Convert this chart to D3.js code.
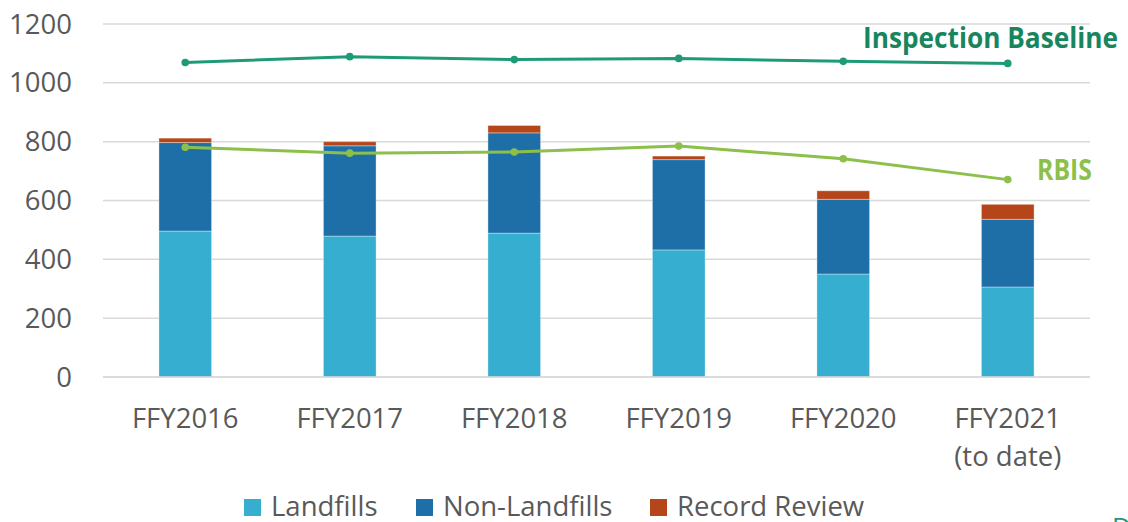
<!DOCTYPE html>
<html>
<head>
<meta charset="utf-8">
<script src="https://cdn.jsdelivr.net/npm/d3@7"></script>
<style>
  body { margin: 0; background: #fff; }
  svg { display: block; font-family: "Open Sans", sans-serif; }
</style>
</head>
<body>
<svg id="chart" width="1128" height="522"></svg>
<script>
// chart values
const years = ["FFY2016", "FFY2017", "FFY2018", "FFY2019", "FFY2020", "FFY2021"];
const yearSub = ["", "", "", "", "", "(to date)"];
const landfills = [496, 479, 489, 432, 350, 306];
const nonLandfills = [301, 307, 341, 307, 254, 230];
const recordReview = [15, 14, 25, 12, 29, 51];
const baseline = [1069, 1089, 1079, 1083, 1073, 1066];
const rbis = [781, 761, 765, 785, 742, 671];
const yTicks = [0, 200, 400, 600, 800, 1000, 1200];

const seriesNames = ["Landfills", "Non-Landfills", "Record Review"];
const seriesColors = ["#36aecf", "#1e6fa8", "#b5461a"];

const svg = d3.select("#chart");
const fontSize = 27.5;

// plot area
const plotLeft = 103, plotRight = 1090, plotTop = 24, plotBottom = 377;

const x = d3.scaleBand().domain(years).range([plotLeft, plotRight]).paddingInner(0.68).paddingOuter(0.34);
const y = d3.scaleLinear().domain([0, 1200]).range([plotBottom, plotTop]);

// gridlines
svg.append("g")
  .selectAll("line")
  .data(yTicks)
  .join("line")
  .attr("x1", plotLeft)
  .attr("x2", plotRight)
  .attr("y1", (d) => y(d))
  .attr("y2", (d) => y(d))
  .attr("stroke", "#d9d9d9")
  .attr("stroke-width", 1.5);

// y tick labels
svg.append("g")
  .selectAll("text")
  .data(yTicks)
  .join("text")
  .attr("x", 72)
  .attr("y", (d) => y(d) + 9.5)
  .attr("text-anchor", "end")
  .attr("font-size", fontSize)
  .attr("fill", "#595959")
  .text((d) => d);

// stacked bars
const table = years.map((yr, i) => ({
  year: yr,
  "Landfills": landfills[i],
  "Non-Landfills": nonLandfills[i],
  "Record Review": recordReview[i],
}));
const stack = d3.stack().keys(seriesNames)(table);

svg.append("g")
  .selectAll("g")
  .data(stack)
  .join("g")
  .attr("fill", (d, i) => seriesColors[i])
  .selectAll("rect")
  .data((d) => d)
  .join("rect")
  .attr("x", (d) => x(d.data.year))
  .attr("width", x.bandwidth())
  .attr("y", (d) => y(d[1]))
  .attr("height", (d) => y(d[0]) - y(d[1]))
  .attr("stroke", "rgba(255,255,255,0.35)")
  .attr("stroke-width", 1);

// x axis base
svg.append("line")
  .attr("x1", plotLeft).attr("x2", plotRight)
  .attr("y1", y(0)).attr("y2", y(0))
  .attr("stroke", "#d9d9d9").attr("stroke-width", 1.5);

// x labels
const xl = svg.append("g");
xl.selectAll("text.main")
  .data(years)
  .join("text")
  .attr("class", "main")
  .attr("x", (d) => x(d) + x.bandwidth() / 2)
  .attr("y", 428)
  .attr("text-anchor", "middle")
  .attr("font-size", fontSize)
  .attr("fill", "#595959")
  .text((d) => d);
xl.selectAll("text.sub")
  .data(yearSub)
  .join("text")
  .attr("class", "sub")
  .attr("x", (d, i) => x(years[i]) + x.bandwidth() / 2)
  .attr("y", 466)
  .attr("text-anchor", "middle")
  .attr("font-size", fontSize)
  .attr("fill", "#595959")
  .text((d) => d);

// lines
const cx = (i) => x(years[i]) + x.bandwidth() / 2;
function drawLine(values, color) {
  const line = d3.line().x((d, i) => cx(i)).y((d) => y(d));
  svg.append("path")
    .datum(values)
    .attr("d", line)
    .attr("fill", "none")
    .attr("stroke", color)
    .attr("stroke-width", 3);
  svg.append("g")
    .selectAll("circle")
    .data(values)
    .join("circle")
    .attr("cx", (d, i) => cx(i))
    .attr("cy", (d) => y(d))
    .attr("r", 3.8)
    .attr("fill", color);
}
drawLine(baseline, "#1f9a77");
drawLine(rbis, "#8cc04a");

// line labels
svg.append("text")
  .attr("x", 863).attr("y", 48)
  .attr("font-size", 28).attr("font-weight", "bold")
  .attr("fill", "#17865f")
  .attr("textLength", 255).attr("lengthAdjust", "spacingAndGlyphs")
  .text("Inspection Baseline");
svg.append("text")
  .attr("x", 1037).attr("y", 180)
  .attr("font-size", 28).attr("font-weight", "bold")
  .attr("fill", "#8cc04a")
  .attr("textLength", 55).attr("lengthAdjust", "spacingAndGlyphs")
  .text("RBIS");

// legend
const legendX = [244, 416, 650];
const legend = svg.append("g")
  .selectAll("g")
  .data(seriesNames)
  .join("g")
  .attr("transform", (d, i) => "translate(" + legendX[i] + ",0)");
legend.append("rect")
  .attr("x", 0).attr("y", 499)
  .attr("width", 17).attr("height", 17)
  .attr("fill", (d, i) => seriesColors[i]);
legend.append("text")
  .attr("x", 27).attr("y", 516)
  .attr("font-size", fontSize)
  .attr("fill", "#595959")
  .text((d) => d);

// clipped letter at bottom right corner
svg.append("text")
  .attr("x", 1112).attr("y", 536)
  .attr("font-size", 26)
  .attr("fill", "#1f9a77")
  .text("D");
</script>
</body>
</html>
